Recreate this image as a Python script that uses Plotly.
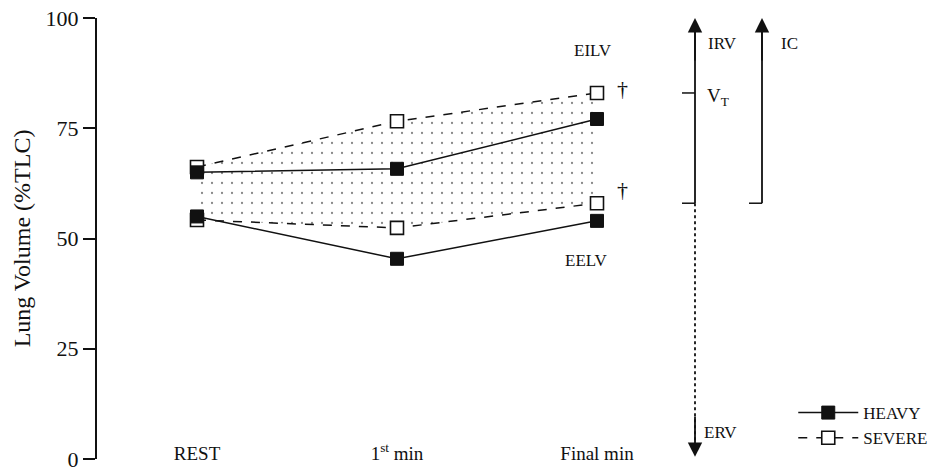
import plotly.graph_objects as go

# Time points and lung volumes (%TLC)
stages = ["REST", "1<sup>st</sup> min", "Final min"]
stage_pos = [0, 1, 2]

heavy_eilv = [65.0, 65.8, 77.1]
heavy_eelv = [55.0, 45.4, 54.0]
severe_eilv = [66.2, 76.6, 83.0]
severe_eelv = [54.2, 52.4, 58.0]

y_ticks = [0, 25, 50, 75, 100]

FONT = "Liberation Serif, Times New Roman, serif"
INK = "#111111"

fig = go.Figure()

# dotted band between the SEVERE inspiratory and expiratory volumes
fig.add_trace(go.Scatter(x=stage_pos, y=severe_eelv, mode="lines",
                         line=dict(width=0), showlegend=False, hoverinfo="skip"))
fig.add_trace(go.Scatter(x=stage_pos, y=severe_eilv, mode="lines",
                         line=dict(width=0), fill="tonexty",
                         fillcolor="rgba(0,0,0,0)",
                         fillpattern=dict(shape=".", size=10, solidity=0.04,
                                          fgcolor="#111111", bgcolor="rgba(0,0,0,0)"),
                         showlegend=False, hoverinfo="skip"))

sev_marker = dict(symbol="square", size=13, color="white", line=dict(color=INK, width=1.6))
hvy_marker = dict(symbol="square", size=13, color=INK, line=dict(color=INK, width=1))

fig.add_trace(go.Scatter(x=stage_pos, y=severe_eelv, mode="lines+markers",
                         line=dict(color=INK, width=1.5, dash="dash"),
                         marker=sev_marker, name="SEVERE", legendgroup="sev",
                         showlegend=False))
fig.add_trace(go.Scatter(x=stage_pos, y=severe_eilv, mode="lines+markers",
                         line=dict(color=INK, width=1.5, dash="dash"),
                         marker=sev_marker, name="SEVERE", legendgroup="sev",
                         legendrank=2))
fig.add_trace(go.Scatter(x=stage_pos, y=heavy_eelv, mode="lines+markers",
                         line=dict(color=INK, width=1.5),
                         marker=hvy_marker, name="HEAVY", legendgroup="hvy",
                         showlegend=False))
fig.add_trace(go.Scatter(x=stage_pos, y=heavy_eilv, mode="lines+markers",
                         line=dict(color=INK, width=1.5),
                         marker=hvy_marker, name="HEAVY", legendgroup="hvy",
                         legendrank=1))

# lung volume subdivisions at the right-hand side
vt_x, ic_x = 2.49, 2.825
eilv_end, eelv_end = severe_eilv[-1], severe_eelv[-1]
shapes = [
    dict(type="line", x0=vt_x, x1=vt_x, y0=eelv_end, y1=97, line=dict(color=INK, width=1.8)),
    dict(type="line", x0=vt_x - 0.065, x1=vt_x, y0=eilv_end, y1=eilv_end, line=dict(color=INK, width=1.5)),
    dict(type="line", x0=vt_x - 0.065, x1=vt_x, y0=eelv_end, y1=eelv_end, line=dict(color=INK, width=1.5)),
    dict(type="line", x0=vt_x, x1=vt_x, y0=eelv_end, y1=3, line=dict(color=INK, width=1.8, dash="dot")),
    dict(type="line", x0=ic_x, x1=ic_x, y0=eelv_end, y1=97, line=dict(color=INK, width=1.8)),
    dict(type="line", x0=ic_x - 0.065, x1=ic_x, y0=eelv_end, y1=eelv_end, line=dict(color=INK, width=1.5)),
]
for s in shapes:
    s.update(xref="x", yref="y", layer="above")

annotations = []
# arrowheads
for x, y_tip, y_tail in [(vt_x, 100, 90), (ic_x, 100, 90), (vt_x, 0.5, 10)]:
    annotations.append(dict(x=x, y=y_tip, ax=x, ay=y_tail, xref="x", yref="y",
                            axref="x", ayref="y", text="", showarrow=True,
                            arrowhead=2, arrowsize=1.6, arrowwidth=1.8, arrowcolor=INK))

labels = [
    (2.545, 94.3, "IRV", "left", 17),
    (2.54, 82.0, "V<sub>T</sub>", "left", 19),
    (2.91, 94.3, "IC", "left", 17),
    (2.525, 5.9, "ERV", "left", 17),
    (1.98, 92.7, "EILV", "center", 17),
    (1.945, 45.1, "EELV", "center", 17),
    (2.09, 84.0, "†", "left", 22),
    (2.09, 61.0, "†", "left", 22),
]
for x, y, t, xa, fs in labels:
    annotations.append(dict(x=x, y=y, xref="x", yref="y", text=t, showarrow=False,
                            xanchor=xa, yanchor="middle",
                            font=dict(family=FONT, size=fs, color=INK)))

fig.update_layout(
    width=943, height=470,
    margin=dict(l=97, r=0, t=18, b=11),
    paper_bgcolor="white", plot_bgcolor="white",
    font=dict(family=FONT, color=INK),
    shapes=shapes, annotations=annotations,
    legend=dict(x=0.823, y=0.145, xanchor="left", yanchor="top",
                font=dict(family=FONT, size=17, color=INK),
                bgcolor="rgba(0,0,0,0)", itemwidth=60, tracegroupgap=0),
    showlegend=True,
)
# category labels sit just above the zero line of the volume axis
fig.update_xaxes(range=[-0.5, 3.73], tickvals=stage_pos, ticktext=stages,
                 anchor="free", position=0.043,
                 showline=False, showgrid=False, zeroline=False, ticks="",
                 automargin=False,
                 tickfont=dict(family=FONT, size=19, color=INK))
fig.update_yaxes(range=[0, 100], tickvals=y_ticks, showline=True, linecolor=INK,
                 linewidth=2, ticks="outside", ticklen=12, tickwidth=2, tickcolor=INK,
                 showgrid=False, zeroline=False, automargin=False,
                 ticklabeloverflow="allow",
                 tickfont=dict(family=FONT, size=22, color=INK),
                 title=dict(text="Lung Volume (%TLC)", standoff=8,
                            font=dict(family=FONT, size=24, color=INK)))

fig.write_html("out.html")
